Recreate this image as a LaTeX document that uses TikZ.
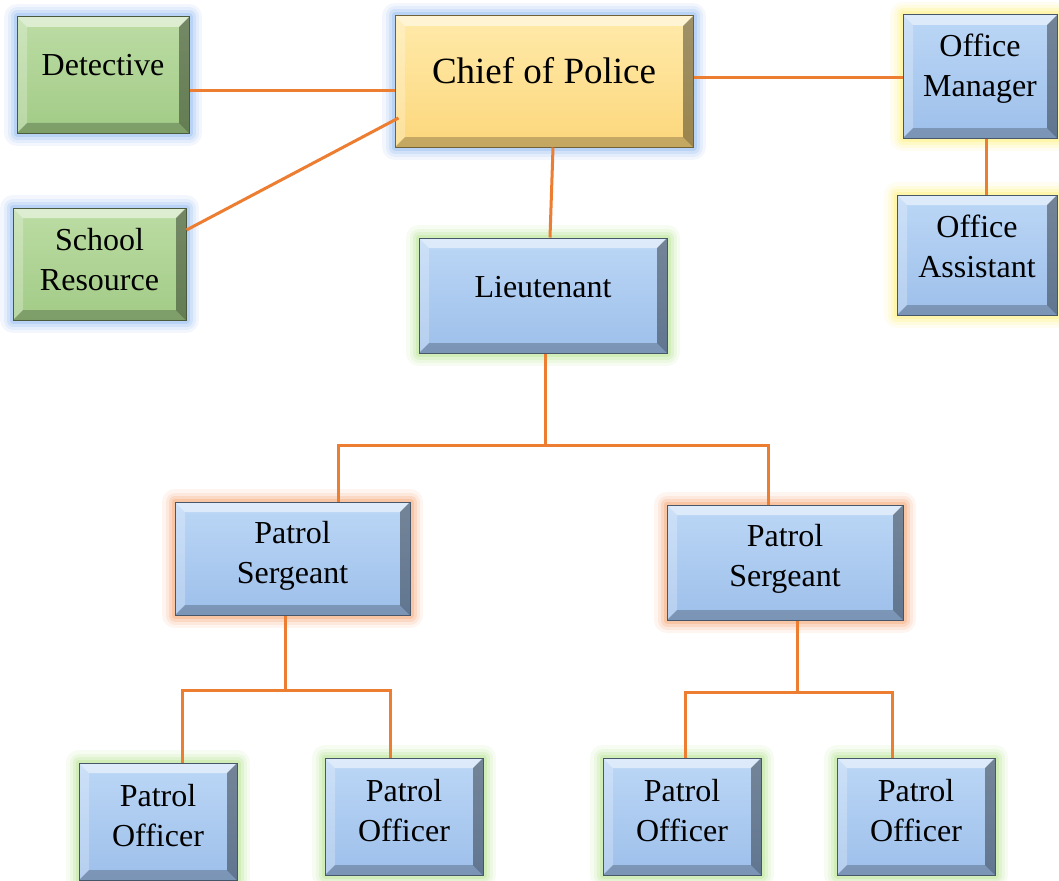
\documentclass[tikz,border=0pt]{standalone}
\usepackage{fontspec}
\setmainfont{Liberation Serif}
\usetikzlibrary{calc}
\definecolor{lineor}{HTML}{ED7D31}
\definecolor{bluetop}{HTML}{BCD7F6}
\definecolor{bluebot}{HTML}{9DBFEA}
\definecolor{goldtop}{HTML}{FFEAAA}
\definecolor{goldbot}{HTML}{FCD77C}
\definecolor{greentop}{HTML}{BCDCA4}
\definecolor{greenbot}{HTML}{A2CB86}
\definecolor{glowblue}{HTML}{8DBAF0}
\definecolor{glowyellow}{HTML}{FFF27A}
\definecolor{glowgreen}{HTML}{B6E38E}
\definecolor{gloworange}{HTML}{F7A36E}
\begin{document}
\begin{tikzpicture}[x=1pt,y=-1pt,
  conn/.style={draw=lineor, line width=3pt},
  glow/.style={
    preaction={draw=#1, line width=26pt, opacity=0.10, line join=round},
    preaction={draw=#1, line width=19pt, opacity=0.15, line join=round},
    preaction={draw=#1, line width=13pt, opacity=0.22, line join=round},
    preaction={draw=#1, line width=7pt, opacity=0.35, line join=round}},
  bevel/.style={path picture={
    \path (path picture bounding box.north west) coordinate (bnw)
          (path picture bounding box.north east) coordinate (bne)
          (path picture bounding box.south west) coordinate (bsw)
          (path picture bounding box.south east) coordinate (bse);
    \fill[white,opacity=0.5] (bnw) -- (bne) -- ([xshift=-10pt,yshift=-10pt]bne) -- ([xshift=10pt,yshift=-10pt]bnw) -- cycle;
    \fill[white,opacity=0.25] (bnw) -- ([xshift=10pt,yshift=-10pt]bnw) -- ([xshift=10pt,yshift=10pt]bsw) -- (bsw) -- cycle;
    \fill[black,opacity=0.38] (bne) -- (bse) -- ([xshift=-10pt,yshift=10pt]bse) -- ([xshift=-10pt,yshift=-10pt]bne) -- cycle;
    \fill[black,opacity=0.22] (bsw) -- (bse) -- ([xshift=-10pt,yshift=10pt]bse) -- ([xshift=10pt,yshift=10pt]bsw) -- cycle;
  }},
  box/.style 2 args={rectangle, inner sep=0pt, top color=#1top, bottom color=#1bot,
    draw=#1bot!45!black, line width=1pt, glow=#2, bevel},
  txt/.style={font=\fontsize{32}{40}\selectfont, align=center, text=black, inner sep=0pt},
  bigtxt/.style={font=\fontsize{37}{44}\selectfont, align=center, text=black, inner sep=0pt}
]
\useasboundingbox (0,0) rectangle (1059,880);
\fill[white] (0,0) rectangle (1059,880);

% junction points
\coordinate (j1) at (545,445);
\coordinate (j2) at (285,690);
\coordinate (j3) at (797,692);

% nodes
\node[box={green}{glowblue}, minimum width=172pt, minimum height=116pt,
  label={[txt,yshift=10pt]center:Detective}] (det) at (103,75) {};
\node[box={green}{glowblue}, minimum width=173pt, minimum height=112pt,
  label={[txt,yshift=4pt]center:{School\\Resource}}] (sch) at (99.5,264) {};
\node[box={gold}{glowblue}, minimum width=298pt, minimum height=131pt,
  label={[bigtxt,yshift=11pt]center:Chief of Police}] (chief) at (544,81.5) {};
\node[box={blue}{glowyellow}, minimum width=154pt, minimum height=123pt,
  label={[txt,yshift=8pt]center:{Office\\Manager}}] (om) at (980,76.5) {};
\node[box={blue}{glowyellow}, minimum width=160pt, minimum height=120pt,
  label={[txt,yshift=9pt]center:{Office\\Assistant}}] (oa) at (977,255) {};
\node[box={blue}{glowgreen}, minimum width=248pt, minimum height=115pt,
  label={[txt,yshift=8pt]center:Lieutenant}] (lt) at (543,295.5) {};
\node[box={blue}{gloworange}, minimum width=235pt, minimum height=113pt,
  label={[txt,yshift=3pt]center:{Patrol\\Sergeant}}] (ps1) at (292.5,558.5) {};
\node[box={blue}{gloworange}, minimum width=236pt, minimum height=115pt,
  label={[txt,yshift=4pt]center:{Patrol\\Sergeant}}] (ps2) at (785,562.5) {};
\node[box={blue}{glowgreen}, minimum width=158pt, minimum height=117pt,
  label={[txt,yshift=6pt]center:{Patrol\\Officer}}] (po1) at (158,821.5) {};
\node[box={blue}{glowgreen}, minimum width=158pt, minimum height=117pt,
  label={[txt,yshift=6pt]center:{Patrol\\Officer}}] (po2) at (404,816.5) {};
\node[box={blue}{glowgreen}, minimum width=158pt, minimum height=117pt,
  label={[txt,yshift=6pt]center:{Patrol\\Officer}}] (po3) at (682,816.5) {};
\node[box={blue}{glowgreen}, minimum width=158pt, minimum height=117pt,
  label={[txt,yshift=6pt]center:{Patrol\\Officer}}] (po4) at (916,816.5) {};

% connector lines
\draw[conn] ([yshift=-16pt]det.east) -- ([yshift=-16pt]det.east -| chief.west);
\draw[conn] ([yshift=34pt]sch.east) -- ([xshift=4pt,yshift=-36.5pt]chief.west);
\draw[conn] ([yshift=3.5pt]chief.east) -- ([yshift=3.5pt]chief.east -| om.west);
\draw[conn] ([xshift=6pt]om.south) -- ([xshift=6pt]om.south |- oa.north);
\draw[conn] ([xshift=9pt]chief.south) -- ([xshift=7pt]lt.north);
\draw[conn] ([xshift=2pt]lt.south) -- (j1);
\draw[conn] ([xshift=45.5pt]ps1.north) |- (j1) -| ([xshift=-17pt]ps2.north);
\draw[conn] ([xshift=-7.5pt]ps1.south) -- (j2);
\draw[conn] ([xshift=24pt]po1.north) |- (j2) -| ([xshift=-14pt]po2.north);
\draw[conn] ([xshift=12pt]ps2.south) -- (j3);
\draw[conn] ([xshift=3pt]po3.north) |- (j3) -| ([xshift=-24pt]po4.north);
\end{tikzpicture}
\end{document}
